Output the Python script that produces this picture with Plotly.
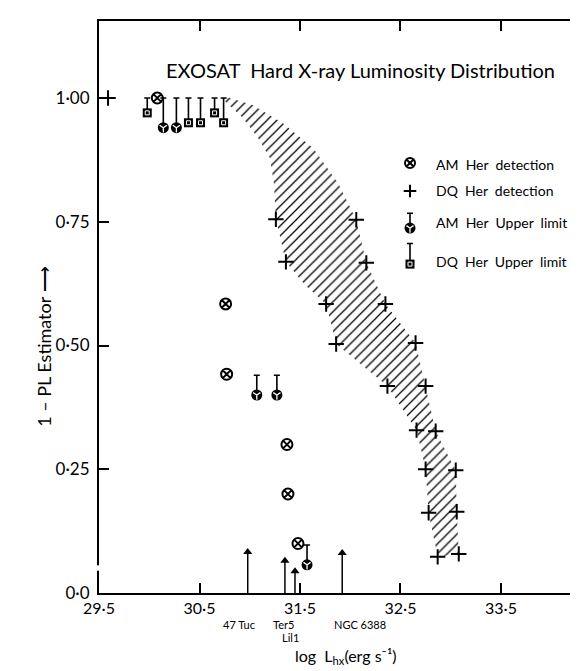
import plotly.graph_objects as go

# ---------------- data ----------------
# AM Her detections (log Lhx, 1-PL estimator)
am_det_x = [30.08, 30.76, 30.77, 31.37, 31.38, 31.48]
am_det_y = [1.00, 0.584, 0.442, 0.30, 0.20, 0.10]

# DQ Her detections
dq_det_x = [29.59, 31.26, 32.06, 31.36, 32.16, 31.76, 32.35, 31.86, 32.65,
            32.37, 32.75, 32.66, 32.85, 32.75, 33.05, 32.78, 33.06, 32.87, 33.08]
dq_det_y = [1.00, 0.755, 0.754, 0.669, 0.667, 0.584, 0.584, 0.503, 0.505,
            0.418, 0.418, 0.329, 0.327, 0.25, 0.248, 0.162, 0.164, 0.073, 0.079]

# AM Her upper limits
am_ul_x = [30.14, 30.27, 31.07, 31.27, 31.57]
am_ul_y = [0.94, 0.94, 0.40, 0.40, 0.057]
am_ul_top = [1.00, 1.00, 0.44, 0.44, 0.097]

# DQ Her upper limits
dq_ul_x = [29.98, 30.39, 30.51, 30.65, 30.74]
dq_ul_y = [0.97, 0.95, 0.95, 0.97, 0.95]
dq_ul_top = [1.00, 1.00, 1.00, 1.00, 1.00]

# hatched band (DQ Her distribution envelope)
band_left_x = [30.74, 30.93, 31.08, 31.20, 31.24, 31.26, 31.36, 31.55, 31.76,
               31.86, 32.37, 32.66, 32.75, 32.78, 32.87]
band_left_y = [0.996, 0.96, 0.92, 0.879, 0.828, 0.756, 0.669, 0.622, 0.584,
               0.503, 0.418, 0.329, 0.25, 0.162, 0.073]
band_right_x = [30.74, 31.03, 31.33, 31.63, 31.88, 32.06, 32.16, 32.35, 32.65,
                32.75, 32.85, 33.05, 33.06, 33.08]
band_right_y = [1.004, 0.986, 0.949, 0.899, 0.828, 0.754, 0.667, 0.584, 0.505,
                0.418, 0.327, 0.248, 0.164, 0.079]

# globular clusters (arrows)
gc_names = ["47 Tuc", "Ter5", "Lil1", "NGC 6388"]
gc_x = [30.98, 31.35, 31.45, 31.92]
gc_top = [0.083, 0.065, 0.044, 0.081]

x_ticks = [29.5, 30.5, 31.5, 32.5, 33.5]
x_ticktext = ["29·5", "30·5", "31·5", "32·5", "33·5"]
y_ticks = [0.0, 0.25, 0.5, 0.75, 1.0]
y_ticktext = ["0·0", "0·25", "0·50", "0·75", "1·00"]

legend_labels = ["AM  Her  detection", "DQ  Her  detection",
                 "AM  Her  Upper  limit", "DQ  Her  Upper  limit"]

FONT = "Lato"
BLACK = "black"

fig = go.Figure()

# band
band_x = band_left_x + band_right_x[::-1]
band_y = band_left_y + band_right_y[::-1]
fig.add_trace(go.Scatter(
    x=band_x, y=band_y, mode="lines", fill="toself",
    line=dict(width=0, color="rgba(0,0,0,0)"),
    fillcolor="rgba(0,0,0,0)",
    fillpattern=dict(shape="/", size=7, solidity=0.18, fgcolor=BLACK,
                     bgcolor="white", fillmode="replace"),
    hoverinfo="skip", showlegend=False))

# cluster arrows (shaft via error bar down to zero, head as triangle)
fig.add_trace(go.Scatter(
    x=gc_x, y=gc_top, mode="markers",
    marker=dict(symbol="triangle-up", size=8, color=BLACK),
    error_y=dict(type="data", symmetric=False, array=[0] * len(gc_top),
                 arrayminus=gc_top, width=0, thickness=1.5, color=BLACK),
    showlegend=False))

# upper limits
fig.add_trace(go.Scatter(
    x=am_ul_x, y=am_ul_y, mode="markers",
    marker=dict(symbol="circle", size=11, color=BLACK),
    error_y=dict(type="data", symmetric=False,
                 array=[t - v for t, v in zip(am_ul_top, am_ul_y)],
                 arrayminus=[0] * len(am_ul_y), width=3, thickness=1.6, color=BLACK),
    showlegend=False))
fig.add_trace(go.Scatter(
    x=am_ul_x, y=am_ul_y, mode="markers",
    marker=dict(symbol="y-down-open", size=6, color="white",
                line=dict(color="white", width=1.3)),
    showlegend=False))
fig.add_trace(go.Scatter(
    x=dq_ul_x, y=dq_ul_y, mode="markers",
    marker=dict(symbol="square", size=9, color=BLACK),
    error_y=dict(type="data", symmetric=False,
                 array=[t - v for t, v in zip(dq_ul_top, dq_ul_y)],
                 arrayminus=[0] * len(dq_ul_y), width=3, thickness=1.6, color=BLACK),
    showlegend=False))
fig.add_trace(go.Scatter(
    x=dq_ul_x, y=dq_ul_y, mode="markers",
    marker=dict(symbol="square-open", size=4, color="white",
                line=dict(color="white", width=1)),
    showlegend=False))

# detections
fig.add_trace(go.Scatter(
    x=am_det_x, y=am_det_y, mode="markers",
    marker=dict(symbol="circle-x-open", size=11, color=BLACK,
                line=dict(color=BLACK, width=2)),
    showlegend=False))
fig.add_trace(go.Scatter(
    x=dq_det_x, y=dq_det_y, mode="markers",
    marker=dict(symbol="cross-thin-open", size=11, color=BLACK,
                line=dict(color=BLACK, width=2)),
    showlegend=False))

# ---------------- legend (overlay axes in 0..1 units) ----------------
lg_sym_x = 0.6386
lg_rows_y = [0.7517, 0.7028, 0.638, 0.575]
lg_text_x = 0.688
lg_text_y = [0.750, 0.7028, 0.6469, 0.5804]
fig.add_trace(go.Scatter(x=[lg_sym_x], y=[lg_rows_y[0]], xaxis="x2", yaxis="y2",
                         mode="markers",
                         marker=dict(symbol="circle-x-open", size=10, color=BLACK,
                                     line=dict(color=BLACK, width=2)),
                         showlegend=False))
fig.add_trace(go.Scatter(x=[lg_sym_x], y=[lg_rows_y[1]], xaxis="x2", yaxis="y2",
                         mode="markers",
                         marker=dict(symbol="cross-thin-open", size=9, color=BLACK,
                                     line=dict(color=BLACK, width=2)),
                         showlegend=False))
fig.add_trace(go.Scatter(x=[lg_sym_x], y=[lg_rows_y[2]], xaxis="x2", yaxis="y2",
                         mode="markers",
                         marker=dict(symbol="circle", size=11, color=BLACK),
                         error_y=dict(type="data", symmetric=False, array=[0.026],
                                      arrayminus=[0], width=3, thickness=1.6, color=BLACK),
                         showlegend=False))
fig.add_trace(go.Scatter(x=[lg_sym_x], y=[lg_rows_y[2]], xaxis="x2", yaxis="y2",
                         mode="markers",
                         marker=dict(symbol="y-down-open", size=6, color="white",
                                     line=dict(color="white", width=1.3)),
                         showlegend=False))
fig.add_trace(go.Scatter(x=[lg_sym_x], y=[lg_rows_y[3]], xaxis="x2", yaxis="y2",
                         mode="markers",
                         marker=dict(symbol="square", size=9, color=BLACK),
                         error_y=dict(type="data", symmetric=False, array=[0.036],
                                      arrayminus=[0], width=3, thickness=1.6, color=BLACK),
                         showlegend=False))
fig.add_trace(go.Scatter(x=[lg_sym_x], y=[lg_rows_y[3]], xaxis="x2", yaxis="y2",
                         mode="markers",
                         marker=dict(symbol="square-open", size=4, color="white",
                                     line=dict(color="white", width=1)),
                         showlegend=False))

annotations = []
for lab, ty in zip(legend_labels, lg_text_y):
    annotations.append(dict(xref="paper", yref="paper", x=lg_text_x, y=ty,
                            text=lab, showarrow=False, xanchor="left", yanchor="middle",
                            font=dict(family=FONT, size=14, color=BLACK)))

# cluster labels
label_shift = [-9, -1, -4, 18]
label_y = [-0.0542, -0.0542, -0.0770, -0.0542]
for name, gx, sh, ly in zip(gc_names, gc_x, label_shift, label_y):
    annotations.append(dict(x=gx, y=ly, xref="x", yref="paper", text=name,
                            showarrow=False, xshift=sh, yanchor="middle",
                            font=dict(family=FONT, size=11, color=BLACK)))

# title and axis titles
annotations.append(dict(xref="paper", yref="paper", x=0.537, y=0.939,
                        text="EXOSAT  Hard X-ray Luminosity Distribution",
                        showarrow=False, font=dict(family=FONT, size=20, color=BLACK)))
annotations.append(dict(xref="paper", yref="paper", x=-0.14, y=0.43,
                        text="1 – PL Estimator ⟶", textangle=-90,
                        showarrow=False, font=dict(family=FONT, size=18, color=BLACK)))
annotations.append(dict(xref="paper", yref="paper", x=0.507, y=-0.111,
                        text="log  L<sub>hx</sub>(erg s⁻¹)", yanchor="middle",
                        showarrow=False, font=dict(family=FONT, size=16, color=BLACK)))

fig.update_layout(
    width=578, height=671,
    margin=dict(l=91, r=0, t=13, b=86),
    paper_bgcolor="white", plot_bgcolor="white",
    showlegend=False,
    annotations=annotations,
    xaxis=dict(range=[29.5, 34.346], tickvals=x_ticks, ticktext=x_ticktext,
               ticks="inside", ticklen=10, tickwidth=1.5, tickcolor=BLACK,
               showline=True, linecolor=BLACK, linewidth=2, mirror="ticks",
               showgrid=False, zeroline=False, ticklabelstandoff=0,
               tickfont=dict(family=FONT, size=16, color=BLACK)),
    yaxis=dict(range=[0, 1.1556], tickvals=y_ticks, ticktext=y_ticktext,
               ticks="inside", ticklen=10, tickwidth=1.5, tickcolor=BLACK,
               showline=True, linecolor=BLACK, linewidth=2, mirror=False,
               showgrid=False, zeroline=False, ticklabelstandoff=4,
               tickfont=dict(family=FONT, size=17, color=BLACK)),
    xaxis2=dict(range=[0, 1], overlaying="x", visible=False),
    yaxis2=dict(range=[0, 1], overlaying="y", visible=False),
    shapes=[dict(type="line", xref="paper", yref="y", x0=0, x1=0, y0=0.045, y1=0.056,
                 line=dict(color="white", width=4), layer="above")],
)

fig.write_html("out.html")
